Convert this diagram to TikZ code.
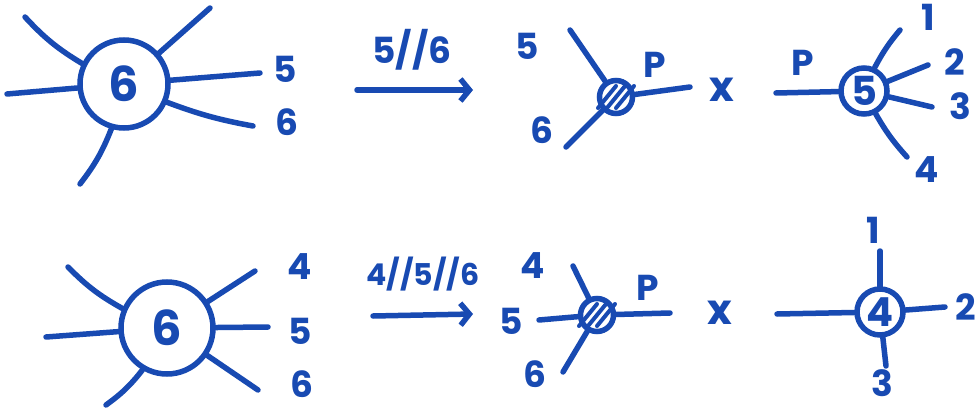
\documentclass[tikz,border=0pt]{standalone}
\usepackage{fontspec}
\setmainfont{Poppins}
\usetikzlibrary{arrows.meta}
\definecolor{ink}{RGB}{24,74,178}
\tikzset{
  leg/.style={draw=ink, line width=5.5pt, line cap=round},
  blob/.style={circle, draw=ink, line width=5.5pt, inner sep=0pt, text=ink},
  hatchblob/.style={circle, draw=ink, line width=5.5pt, inner sep=0pt, minimum size=33pt},
  hatchline/.style={draw=ink, line width=4pt, line cap=round},
  lab/.style={text=ink, inner sep=0pt, font=\fontsize{36}{36}\selectfont\bfseries},
  biglab/.style={font=\fontsize{48}{48}\selectfont\bfseries},
  midlab/.style={font=\fontsize{40}{40}\selectfont\bfseries},
  crosslab/.style={font=\fontsize{42}{42}\selectfont\bfseries},
  limit/.style={leg, -{Straight Barb[length=9pt,width=22pt]}},
}
\begin{document}
\begin{tikzpicture}[x=1pt,y=-1pt]
    \useasboundingbox (0,0) rectangle (979,409);

    % top row: six-point vertex
    \node[blob, minimum size=88pt, biglab] (A) at (124,84) {6};
    \coordinate (a1) at (25,17);
    \coordinate (a2) at (210,8);
    \coordinate (a3) at (7,94);
    \coordinate (a4) at (260,73);
    \coordinate (a5) at (253,126);
    \coordinate (a6) at (80,184);
    \draw[leg] (A) to[bend left=8] (a1);
    \draw[leg] (A) -- (a2);
    \draw[leg] (A) -- (a3);
    \draw[leg] (A) -- (a4);
    \draw[leg] (A) to[bend right=5] (a5);
    \draw[leg] (A) to[bend left=8] (a6);
    \node[lab] (la4) at (285,69) {5};
    \node[lab] (la5) at (287,122) {6};

    % top row: limit arrow
    \coordinate (t1) at (357,90);
    \coordinate (t2) at (473,90);
    \draw[limit] (t1) -- (t2);
    \node[lab] (lt) at (412,50) {5//6};

    % top row: splitting vertex
    \node[hatchblob] (B) at (616,97) {};
    \foreach \o in {-9,0,9}
      \draw[hatchline] ([shift={(\o-9,11)}]B.center) -- ([shift={(\o+9,-11)}]B.center);
    \coordinate (b1) at (570,30);
    \coordinate (b2) at (566,147);
    \coordinate (b3) at (690,87);
    \draw[leg] (B) -- (b1);
    \draw[leg] (B) -- (b2);
    \draw[leg] (B) -- (b3);
    \node[lab] (lb1) at (527,46) {5};
    \node[lab] (lb2) at (542,130) {6};
    \node[lab] (lb3) at (655,65) {P};
    \node[lab, crosslab] (xt) at (722,90) {x};

    % top row: five-point vertex
    \node[blob, minimum size=46pt, midlab] (C) at (864,91) {5};
    \coordinate (c0) at (776,93);
    \coordinate (c1) at (900,30);
    \coordinate (c2) at (928,65);
    \coordinate (c3) at (932,107);
    \coordinate (c4) at (907,157);
    \draw[leg] (C) -- (c0);
    \draw[leg] (C) to[bend left=6] (c1);
    \draw[leg] (C) -- (c2);
    \draw[leg] (C) -- (c3);
    \draw[leg] (C) to[bend right=6] (c4);
    \node[lab] (lc0) at (803,63) {P};
    \node[lab] (lc1) at (928,17) {1};
    \node[lab] (lc2) at (955,62) {2};
    \node[lab] (lc3) at (960,106) {3};
    \node[lab] (lc4) at (927,170) {4};

    % bottom row: six-point vertex
    \node[blob, minimum size=92pt, biglab] (D) at (167,328) {6};
    \coordinate (d1) at (68,267);
    \coordinate (d2) at (46,337);
    \coordinate (d3) at (255,271);
    \coordinate (d4) at (268,327);
    \coordinate (d5) at (258,390);
    \coordinate (d6) at (106,405);
    \draw[leg] (D) to[bend left=8] (d1);
    \draw[leg] (D) -- (d2);
    \draw[leg] (D) -- (d3);
    \draw[leg] (D) -- (d4);
    \draw[leg] (D) -- (d5);
    \draw[leg] (D) to[bend left=8] (d6);
    \node[lab] (ld3) at (300,267) {4};
    \node[lab] (ld4) at (300,331) {5};
    \node[lab] (ld5) at (302,384) {6};

    % bottom row: limit arrow
    \coordinate (s1) at (373,316);
    \coordinate (s2) at (473,314);
    \draw[limit] (s1) -- (s2);
    \node[lab, font=\fontsize{30}{30}\selectfont\bfseries] (ls) at (423,274) {4//5//6};

    % bottom row: splitting vertex
    \node[hatchblob] (E) at (597,315) {};
    \foreach \o in {-9,0,9}
      \draw[hatchline] ([shift={(\o-9,11)}]E.center) -- ([shift={(\o+9,-11)}]E.center);
    \coordinate (e1) at (573,266);
    \coordinate (e2) at (539,320);
    \coordinate (e3) at (563,372);
    \coordinate (e4) at (670,313);
    \draw[leg] (E) -- (e1);
    \draw[leg] (E) -- (e2);
    \draw[leg] (E) -- (e3);
    \draw[leg] (E) -- (e4);
    \node[lab] (le1) at (533,266) {4};
    \node[lab] (le2) at (511,321) {5};
    \node[lab] (le3) at (535,374) {6};
    \node[lab] (le4) at (648,288) {P};
    \node[lab, crosslab] (xs) at (720,313) {x};

    % bottom row: four-point vertex
    \node[blob, minimum size=46pt, midlab] (F) at (880,312) {4};
    \coordinate (f0) at (777,314);
    \coordinate (f1) at (880,251);
    \coordinate (f2) at (945,307);
    \coordinate (f3) at (886,366);
    \draw[leg] (F) -- (f0);
    \draw[leg] (F) -- (f1);
    \draw[leg] (F) -- (f2);
    \draw[leg] (F) -- (f3);
    \node[lab] (lf1) at (873,230) {1};
    \node[lab] (lf2) at (966,307) {2};
    \node[lab] (lf3) at (882,383) {3};
\end{tikzpicture}
\end{document}
